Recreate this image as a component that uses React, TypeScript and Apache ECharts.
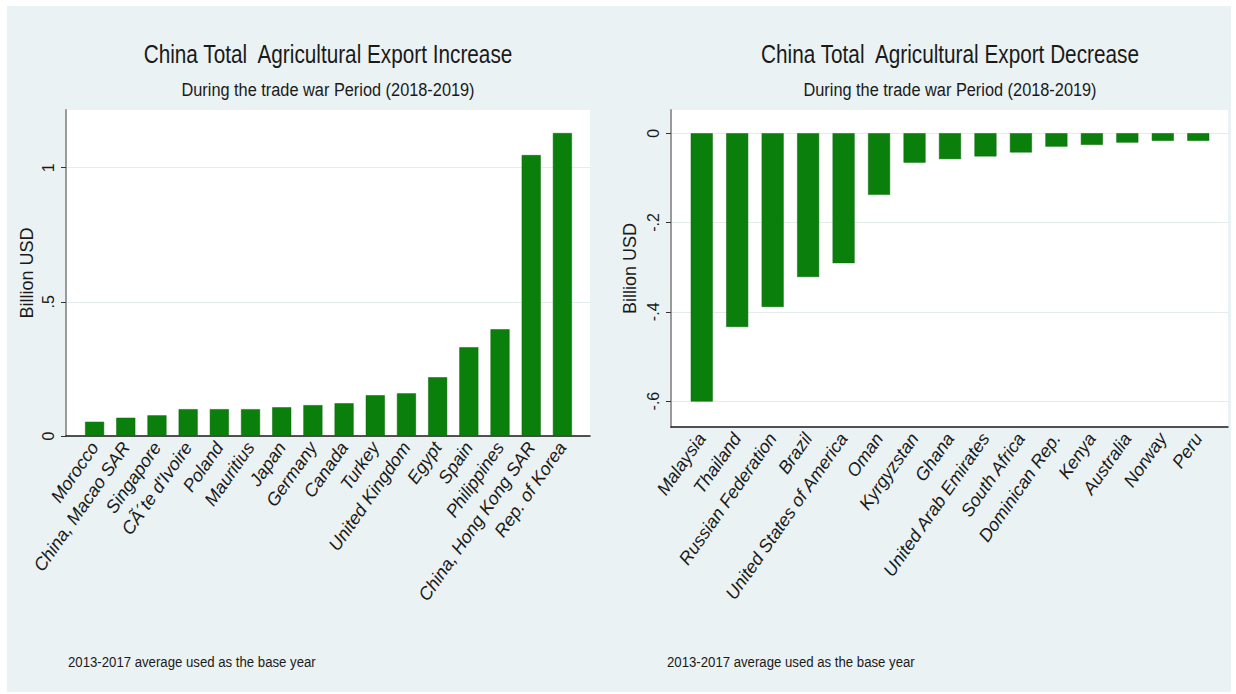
import React, { useEffect, useRef } from "react";
import * as echarts from "echarts";

const incCountries = [
  "Morocco", "China, Macao SAR", "Singapore", "CÃ´te d'Ivoire", "Poland", "Mauritius",
  "Japan", "Germany", "Canada", "Turkey", "United Kingdom", "Egypt", "Spain",
  "Philippines", "China, Hong Kong SAR", "Rep. of Korea",
];
const incValues = [0.053, 0.068, 0.077, 0.1, 0.1, 0.1, 0.107, 0.115, 0.122, 0.152, 0.159, 0.219, 0.331, 0.398, 1.047, 1.129];

const decCountries = [
  "Malaysia", "Thailand", "Russian Federation", "Brazil", "United States of America",
  "Oman", "Kyrgyzstan", "Ghana", "United Arab Emirates", "South Africa",
  "Dominican Rep.", "Kenya", "Australia", "Norway", "Peru",
];
const decValues = [-0.601, -0.434, -0.389, -0.322, -0.291, -0.138, -0.066, -0.058, -0.052, -0.043, -0.03, -0.026, -0.021, -0.017, -0.017];

const incTicks = [0, 0.5, 1];
const decTicks = [-0.6, -0.4, -0.2, 0];

const incTitle = "China Total  Agricultural Export Increase";
const decTitle = "China Total  Agricultural Export Decrease";
const subTitle = "During the trade war Period (2018-2019)";
const noteText = "2013-2017 average used as the base year";
const yName = "Billion USD";

const FONT = "'Liberation Sans', Arial, sans-serif";
const GREEN = "#0b7f0b";

const fmt = (v: number) => {
  const r = Math.round(v * 10) / 10;
  if (r === 0) return "0";
  return String(r).replace(/^(-?)0\./, "$1.");
};

function frameX(gridIndex: number) {
  return {
    type: "value",
    gridIndex,
    min: 0,
    max: 1,
    axisLine: { show: true, onZero: false, lineStyle: { color: "#1a1a1a", width: 1.5 } },
    axisTick: { show: false },
    axisLabel: { show: false },
    splitLine: { show: false },
  };
}

function frameY(gridIndex: number, min: number, max: number, ticks: number[], split: number, gap: number) {
  return {
    type: "value",
    gridIndex,
    min,
    max,
    splitNumber: split,
    name: yName,
    nameLocation: "middle",
    nameGap: gap,
    nameTextStyle: { fontFamily: FONT, fontSize: 18, color: "#1a1a1a" },
    axisLine: { show: true, lineStyle: { color: "#9a9a9a", width: 2 } },
    axisTick: { show: true, length: 5, customValues: ticks, lineStyle: { color: "#333" } },
    axisLabel: {
      customValues: ticks,
      rotate: 90,
      margin: 10,
      fontFamily: FONT,
      fontSize: 16,
      color: "#1a1a1a",
      formatter: (v: number) => fmt(v),
    },
    splitLine: { show: true, lineStyle: { color: "#e4ecee", width: 1 } },
  };
}

function barX(gridIndex: number, data: string[]) {
  return {
    type: "category",
    gridIndex,
    data,
    axisLine: { show: false, onZero: false },
    axisTick: { show: false },
    splitLine: { show: false },
    axisLabel: {
      interval: 0,
      rotate: 55,
      margin: 8,
      fontFamily: FONT,
      fontStyle: "italic",
      fontSize: 18,
      color: "#1a1a1a",
    },
  };
}

function hiddenY(gridIndex: number, min: number, max: number) {
  return { type: "value", gridIndex, min, max, show: false, splitLine: { show: false } };
}

export default function App() {
  const ref = useRef<HTMLDivElement>(null);
  useEffect(() => {
    if (!ref.current) return;
    const chart = echarts.init(ref.current, null, { renderer: "svg" });
    const textEl = (text: string, x: number, y: number, size: number, sx: number, align: string) => ({
      type: "text",
      x,
      y,
      scaleX: sx,
      z: 10,
      style: {
        text,
        fontFamily: FONT,
        fontSize: size,
        fill: "#1a1a1a",
        align,
        verticalAlign: "middle",
      },
    });
    chart.setOption({
      animation: false,
      backgroundColor: "#ffffff",
      graphic: [
        { type: "rect", z: -100, shape: { x: 7, y: 6, width: 1224, height: 686 }, style: { fill: "#eaf2f3" } },
        textEl(incTitle, 328, 54, 25, 0.83, "center"),
        textEl(subTitle, 328, 90, 19, 0.86, "center"),
        textEl(decTitle, 950, 54, 25, 0.83, "center"),
        textEl(subTitle, 950, 90, 19, 0.86, "center"),
        textEl(noteText, 68, 662, 15, 0.88, "left"),
        textEl(noteText, 667, 662, 15, 0.88, "left"),
      ],
      grid: [
        { left: 66, top: 110, width: 524, height: 326, show: true, backgroundColor: "#ffffff", borderWidth: 0 },
        { left: 79, top: 110, width: 499, height: 326 },
        { left: 671, top: 110, width: 557, height: 317, show: true, backgroundColor: "#ffffff", borderWidth: 0 },
        { left: 684, top: 110, width: 532, height: 317 },
      ],
      xAxis: [frameX(0), barX(1, incCountries), frameX(2), barX(3, decCountries)],
      yAxis: [
        frameY(0, 0, 1.215, incTicks, 3, 30),
        hiddenY(1, 0, 1.215),
        frameY(2, -0.658, 0.052, decTicks, 4, 32),
        hiddenY(3, -0.658, 0.052),
      ],
      series: [
        {
          type: "bar",
          xAxisIndex: 1,
          yAxisIndex: 1,
          data: incValues,
          barWidth: "61%",
          itemStyle: { color: GREEN, borderColor: "#0a6a0a", borderWidth: 0.5 },
        },
        {
          type: "bar",
          xAxisIndex: 3,
          yAxisIndex: 3,
          data: decValues,
          barWidth: "62%",
          itemStyle: { color: GREEN, borderColor: "#0a6a0a", borderWidth: 0.5 },
        },
      ],
    });
    return () => chart.dispose();
  }, []);
  return (
    <div
      ref={ref}
      style={{ position: "absolute", left: 0, top: 0, width: 1236, height: 694 }}
    />
  );
}
